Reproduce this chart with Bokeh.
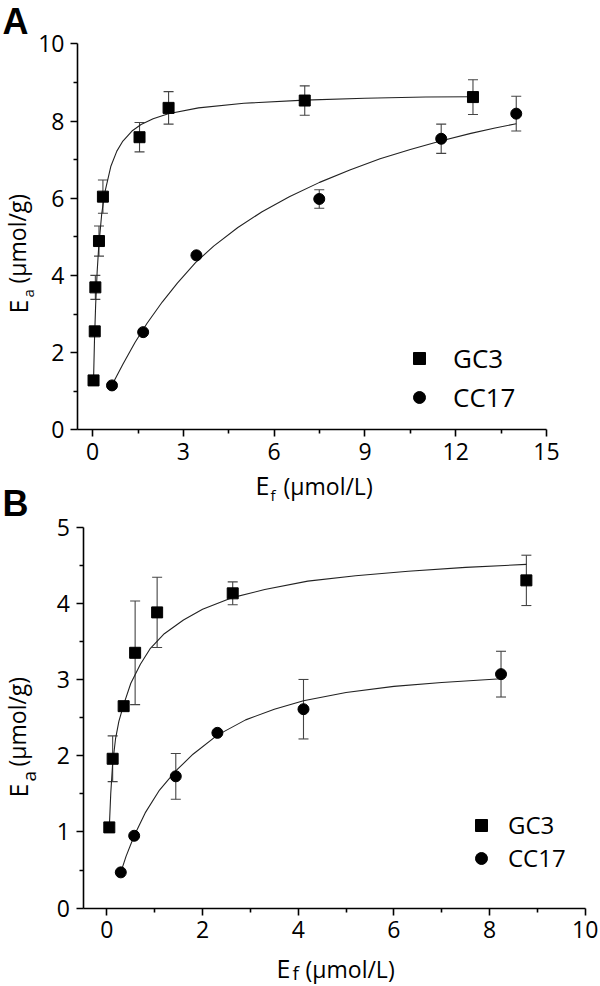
from bokeh.plotting import figure
from bokeh.models import (Range1d, FixedTicker, Label, Whisker, TeeHead,
                          ColumnDataSource, Legend, LegendItem, LinearAxis)
from bokeh.embed import file_html
from bokeh.resources import INLINE

# ---------------- data: panel A ----------------
a_gc3_x = [0.03, 0.07, 0.09, 0.21, 0.34, 1.55, 2.51, 7.01, 12.57]
a_gc3_y = [1.28, 2.55, 3.69, 4.89, 6.04, 7.58, 8.34, 8.53, 8.62]
a_gc3_err = [0, 0, 0.31, 0.39, 0.43, 0.38, 0.42, 0.38, 0.45]

a_cc17_x = [0.64, 1.67, 3.43, 7.49, 11.52, 14.0]
a_cc17_y = [1.15, 2.53, 4.52, 5.98, 7.54, 8.19]
a_cc17_err = [0, 0, 0, 0.24, 0.38, 0.45]

a_gc3_fit_x = [0.03, 0.06, 0.1, 0.15, 0.2, 0.3, 0.4, 0.6, 0.8, 1.0, 1.3, 1.6,
               2.0, 2.5, 3.5, 5.0, 7.0, 9.0, 11.0, 12.57]
a_gc3_fit_y = [1.28, 2.28, 3.24, 4.10, 4.73, 5.59, 6.14, 6.82, 7.22, 7.48, 7.74,
               7.91, 8.06, 8.19, 8.34, 8.46, 8.54, 8.59, 8.62, 8.63]

a_cc17_fit_x = [0.64, 1.0, 1.4, 1.8, 2.3, 2.8, 3.4, 4.0, 4.8, 5.6, 6.5, 7.5,
                8.5, 9.5, 10.5, 11.5, 12.5, 13.3, 14.0]
a_cc17_fit_y = [1.16, 1.70, 2.26, 2.76, 3.31, 3.80, 4.33, 4.76, 5.24, 5.65, 6.04,
                6.41, 6.73, 7.02, 7.26, 7.48, 7.68, 7.82, 7.93]

a_xticks = [0, 3, 6, 9, 12, 15]
a_xminor = [1.5, 4.5, 7.5, 10.5, 13.5]
a_yticks = [0, 2, 4, 6, 8, 10]
a_yminor = [1, 3, 5, 7, 9]

# ---------------- data: panel B ----------------
b_gc3_x = [0.05, 0.12, 0.35, 0.59, 1.05, 2.63, 8.77]
b_gc3_y = [1.06, 1.96, 2.65, 3.35, 3.88, 4.13, 4.30]
b_gc3_err = [0, 0.30, 0, 0.68, 0.46, 0.15, 0.33]

b_cc17_x = [0.29, 0.57, 1.44, 2.31, 4.11, 8.24]
b_cc17_y = [0.47, 0.95, 1.73, 2.30, 2.61, 3.07]
b_cc17_err = [0, 0, 0.30, 0, 0.39, 0.30]

b_gc3_fit_x = [0.05, 0.08, 0.12, 0.18, 0.25, 0.35, 0.5, 0.7, 0.9, 1.2, 1.6, 2.0,
               2.6, 3.3, 4.2, 5.2, 6.3, 7.5, 8.77]
b_gc3_fit_y = [1.06, 1.5, 1.9, 2.22, 2.45, 2.67, 2.95, 3.2, 3.4, 3.6, 3.78, 3.92,
               4.07, 4.18, 4.29, 4.36, 4.42, 4.47, 4.51]

b_cc17_fit_x = [0.29, 0.4, 0.57, 0.8, 1.1, 1.44, 1.8, 2.31, 2.9, 3.5, 4.11, 5.0,
                6.0, 7.0, 8.24]
b_cc17_fit_y = [0.47, 0.68, 0.95, 1.25, 1.55, 1.80, 2.02, 2.27, 2.47, 2.61, 2.72,
                2.83, 2.91, 2.96, 3.01]

b_xticks = [0, 2, 4, 6, 8, 10]
b_xminor = [1, 3, 5, 7, 9]
b_yticks = [0, 1, 2, 3, 4, 5]
b_yminor = [0.5, 1.5, 2.5, 3.5, 4.5]

series_names = ["GC3", "CC17"]

FONT = "Open Sans"
INK = "black"
ERR = "#444444"
W, H = 600, 986


class Space:
    """Maps a panel's data ranges onto the full canvas (the frame fills the
    canvas; axes are drawn at fixed data locations)."""

    def __init__(self, xr, yr, px_x, px_y):
        (x0, x1), (y0, y1) = xr, yr
        (qx0, qx1), (qy0, qy1) = px_x, px_y
        self.sx = (qx1 - qx0) / (x1 - x0)
        self.sy = (qy0 - qy1) / (y1 - y0)
        self.x_at0 = x0 - qx0 / self.sx
        self.y_at0 = y0 + qy0 / self.sy
        self.xr = Range1d(self.x_at0, self.x_at0 + W / self.sx)
        self.yr = Range1d(self.y_at0 - H / self.sy, self.y_at0)

    def dx(self, px):
        return self.x_at0 + px / self.sx

    def dy(self, py):
        return self.y_at0 - py / self.sy


SA = Space((-0.5, 15), (0, 10), (77, 546), (429.3, 43.3))
SB = Space((-0.5, 10), (0, 5), (82.5, 584.7), (907.7, 526.5))

p = figure(width=W, height=H, output_backend="svg", toolbar_location=None,
           x_range=SA.xr, y_range=SA.yr, min_border=0,
           min_border_left=0, min_border_right=0,
           min_border_top=0, min_border_bottom=0)
p.title.visible = False
p.extra_x_ranges = {"xb": SB.xr}
p.extra_y_ranges = {"yb": SB.yr}
p.xgrid.visible = False
p.ygrid.visible = False
p.outline_line_color = None


def style_axis(ax, ticks, minor):
    ax.ticker = FixedTicker(ticks=ticks, minor_ticks=minor)
    ax.axis_line_color = INK
    ax.axis_line_width = 1.6
    ax.major_tick_line_color = INK
    ax.major_tick_line_width = 1.6
    ax.minor_tick_line_color = INK
    ax.minor_tick_line_width = 1.6
    ax.major_tick_in = 0
    ax.major_tick_out = 7
    ax.minor_tick_in = 0
    ax.minor_tick_out = 4
    ax.major_label_text_font = FONT
    ax.major_label_text_font_size = "23px"
    ax.major_label_text_color = INK
    ax.major_label_standoff = 6


# panel A axes (default axes pinned to data locations)
axA_x = p.xaxis[0]
axA_x.fixed_location = 0
axA_x.bounds = (-0.5, 15)
style_axis(axA_x, a_xticks, a_xminor)
axA_y = p.yaxis[0]
axA_y.fixed_location = -0.5
axA_y.bounds = (0, 10)
style_axis(axA_y, a_yticks, a_yminor)

# panel B axes
axB_x = LinearAxis(x_range_name="xb", y_range_name="yb", fixed_location=0,
                   bounds=(-0.5, 10))
style_axis(axB_x, b_xticks, b_xminor)
p.add_layout(axB_x, "below")
axB_y = LinearAxis(x_range_name="xb", y_range_name="yb", fixed_location=-0.5,
                   bounds=(0, 5))
style_axis(axB_y, b_yticks, b_yminor)
p.add_layout(axB_y, "left")


def add_series(x, y, err, fx, fy, marker, rn):
    kw = {} if rn is None else dict(x_range_name=rn[0], y_range_name=rn[1])
    p.line(fx, fy, line_color="#222222", line_width=1.1, **kw)
    keep = [i for i, e in enumerate(err) if e > 0]
    src = ColumnDataSource(dict(
        x=[x[i] for i in keep],
        upper=[y[i] + err[i] for i in keep],
        lower=[y[i] - err[i] for i in keep]))
    p.add_layout(Whisker(
        source=src, base="x", upper="upper", lower="lower",
        line_color=ERR, line_width=1.1, level="underlay",
        upper_head=TeeHead(size=10, line_color=ERR, line_width=1.1),
        lower_head=TeeHead(size=10, line_color=ERR, line_width=1.1), **kw))
    return p.scatter(x, y, marker=marker, size=11, fill_color=INK,
                     line_color=INK, **kw)


def add_legend_item(label, r, loc, standoff, size):
    p.add_layout(Legend(
        items=[LegendItem(label=label, renderers=[r])],
        location=loc, glyph_width=30, glyph_height=30, spacing=0,
        padding=0, margin=0, label_standoff=standoff,
        border_line_color=None, background_fill_alpha=0,
        label_text_font=FONT, label_text_font_size=f"{size}px",
        label_text_color=INK))


def txt(S, rn, px, py, text, size, angle=0, bold=False, font=FONT):
    kw = {} if rn is None else dict(x_range_name=rn[0], y_range_name=rn[1])
    p.add_layout(Label(x=S.dx(px), y=S.dy(py), text=text,
                       angle=angle, angle_units="deg",
                       text_font=font, text_font_size=f"{size}px",
                       text_font_style="bold" if bold else "normal",
                       text_color=INK, text_align="left",
                       text_baseline="middle", **kw))


RB = ("xb", "yb")

# ---------------- panel A ----------------
rA1 = add_series(a_gc3_x, a_gc3_y, a_gc3_err, a_gc3_fit_x, a_gc3_fit_y, "square", None)
rA2 = add_series(a_cc17_x, a_cc17_y, a_cc17_err, a_cc17_fit_x, a_cc17_fit_y, "circle", None)
add_legend_item(series_names[0], rA1, (404, H - 376), 19, 26)
add_legend_item(series_names[1], rA2, (404, H - 415), 19, 26)

txt(SA, None, 2, 20.5, "A", 36, bold=True, font="Liberation Sans")
txt(SA, None, 2, 502.5, "B", 36, bold=True, font="Liberation Sans")
# y label (rotated; x is the text's centre line)
txt(SA, None, 17, 313, "E", 25, angle=90)
txt(SA, None, 27, 297, "a", 15, angle=90)
txt(SA, None, 16.5, 283, "(\u03bcmol/g)", 23, angle=90)
# x label (y is the text's centre line)
txt(SA, None, 255, 484, "E", 25)
txt(SA, None, 270, 494, "f", 15)
txt(SA, None, 283, 485, "(\u03bcmol/L)", 23)

# ---------------- panel B ----------------
rB1 = add_series(b_gc3_x, b_gc3_y, b_gc3_err, b_gc3_fit_x, b_gc3_fit_y, "square", RB)
rB2 = add_series(b_cc17_x, b_cc17_y, b_cc17_err, b_cc17_fit_x, b_cc17_fit_y, "circle", RB)
add_legend_item(series_names[0], rB1, (466, H - 841), 12, 24)
add_legend_item(series_names[1], rB2, (466, H - 874), 12, 24)

txt(SB, RB, 17, 797, "E", 25, angle=90)
txt(SB, RB, 28, 781, "a", 19, angle=90)
txt(SB, RB, 16.5, 766, "(\u03bcmol/g)", 23, angle=90)
txt(SB, RB, 276, 967, "E", 25)
txt(SB, RB, 292, 972.5, "f", 19)
txt(SB, RB, 305, 968, "(\u03bcmol/L)", 23)

open("out.html", "w").write(file_html(p, INLINE))
